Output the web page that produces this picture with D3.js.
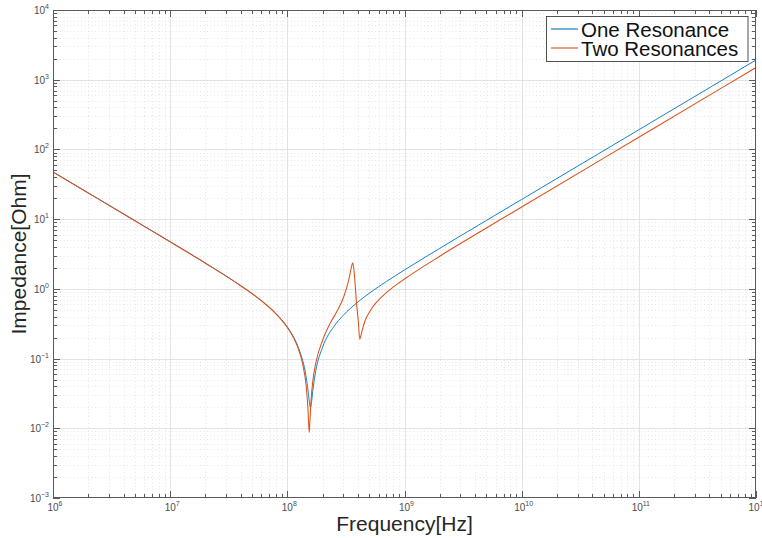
<!DOCTYPE html>
<html>
<head>
<meta charset="utf-8">
<script src="https://cdn.jsdelivr.net/npm/d3@7"></script>
<style>
  html, body { margin: 0; padding: 0; background: #ffffff; }
  svg { display: block; }
  text { font-family: "Liberation Sans", Arial, Helvetica, sans-serif; }
</style>
</head>
<body>
<svg id="chart" width="762" height="538"></svg>
<script>
// Impedance magnitude of a series resonator, single and double resonance
const freqOne = [1e6, 2e6, 5e6, 1e7, 2e7, 4e7, 6e7, 8e7, 1e8, 1.2e8, 1.3e8, 1.4e8, 1.45e8,
  1.5e8, 1.52e8, 1.5745e8, 1.6e8, 1.65e8, 1.75e8, 2e8, 2.5e8, 3e8, 4e8, 6e8, 7e8, 1e9,
  1.5e9, 2e9, 3e9, 5e9, 1e10, 1e11, 1e12];
const zOne = [47.51, 23.75, 9.49, 4.732, 2.337, 1.111, 0.677, 0.4406, 0.2835, 0.1659, 0.1163,
  0.0738, 0.0536, 0.0355, 0.0292, 0.02, 0.0222, 0.0347, 0.0669, 0.1458, 0.2891, 0.4165,
  0.6478, 1.0707, 1.2736, 1.869, 2.843, 3.809, 5.749, 9.573, 19.16, 191.6, 1916];

const freqTwo = [1e6, 2e6, 5e6, 1e7, 2e7, 4e7, 6e7, 8e7, 1e8, 1.2e8, 1.35e8, 1.45e8, 1.5e8,
  1.5375e8, 1.56e8, 1.6e8, 1.65e8, 1.75e8, 2e8, 2.33e8, 2.66e8, 3.03e8, 3.34e8, 3.5e8,
  3.62e8, 3.74e8, 3.89e8, 4.04e8, 4.15e8, 4.25e8, 4.35e8, 4.64e8, 5.12e8, 5.65e8, 6e8, 7e8, 8e8,
  1e9, 2e9, 5e9, 1e10, 1e11, 1e12];
const zTwo = [47.51, 23.75, 9.49, 4.73, 2.335, 1.108, 0.676, 0.4389, 0.280, 0.160, 0.0845,
  0.0394, 0.0191, 0.0087, 0.0129, 0.0276, 0.0474, 0.0865, 0.1831, 0.325, 0.48, 0.77, 1.33,
  1.95, 2.37, 1.557, 0.644, 0.332, 0.19, 0.215, 0.2525, 0.36, 0.49, 0.62, 0.69, 0.88, 1.06,
  1.385, 2.939, 7.457, 14.94, 149.5, 1495];

const seriesNames = ["One Resonance", "Two Resonances"];
const seriesColors = ["#0072BD", "#D95319"];
const seriesWidths = [0.9, 1.05];
const xTickExps = [6, 7, 8, 9, 10, 11, 12];
const yTickExps = [-3, -2, -1, 0, 1, 2, 3, 4];
const xTitle = "Frequency[Hz]";
const yTitle = "Impedance[Ohm]";

const svg = d3.select("#chart");
const plot = { left: 53, right: 756, top: 10, bottom: 498 };

const x = d3.scaleLog().domain([1e6, 1e12]).range([plot.left, plot.right]);
const y = d3.scaleLog().domain([1e-3, 1e4]).range([plot.bottom, plot.top]);

// minor positions: 2..9 times each decade
function minors(exps) {
  const out = [];
  for (let i = 0; i < exps.length - 1; i++) {
    for (let m = 2; m <= 9; m++) out.push(m * Math.pow(10, exps[i]));
  }
  return out;
}
const xMajor = xTickExps.map(e => Math.pow(10, e));
const yMajor = yTickExps.map(e => Math.pow(10, e));
const xMinor = minors(xTickExps);
const yMinor = minors(yTickExps);

const g = svg.append("g");

// minor grid (dotted)
const gridMinor = g.append("g").attr("stroke", "#d6d6d6").attr("stroke-width", 0.6)
  .attr("stroke-dasharray", "1,2.5");
gridMinor.selectAll("line.vx").data(xMinor).join("line")
  .attr("x1", d => Math.round(x(d)) + 0.5).attr("x2", d => Math.round(x(d)) + 0.5)
  .attr("y1", plot.top).attr("y2", plot.bottom);
gridMinor.selectAll("line.hy").data(yMinor).join("line")
  .attr("y1", d => Math.round(y(d)) + 0.5).attr("y2", d => Math.round(y(d)) + 0.5)
  .attr("x1", plot.left).attr("x2", plot.right);

// major grid (solid)
const gridMajor = g.append("g").attr("stroke", "#dcdcdc").attr("stroke-width", 0.8);
gridMajor.selectAll("line.vx").data(xMajor.slice(1, -1)).join("line")
  .attr("x1", d => Math.round(x(d)) + 0.5).attr("x2", d => Math.round(x(d)) + 0.5)
  .attr("y1", plot.top).attr("y2", plot.bottom);
gridMajor.selectAll("line.hy").data(yMajor.slice(1, -1)).join("line")
  .attr("y1", d => Math.round(y(d)) + 0.5).attr("y2", d => Math.round(y(d)) + 0.5)
  .attr("x1", plot.left).attr("x2", plot.right);

// curves
svg.append("clipPath").attr("id", "clip").append("rect")
  .attr("x", plot.left).attr("y", plot.top)
  .attr("width", plot.right - plot.left).attr("height", plot.bottom - plot.top);

const line = d3.line().x(d => x(d[0])).y(d => y(d[1])).curve(d3.curveMonotoneX);
const seriesData = [d3.zip(freqOne, zOne), d3.zip(freqTwo, zTwo)];
g.append("g").attr("clip-path", "url(#clip)")
  .selectAll("path").data(seriesData).join("path")
  .attr("d", line).attr("fill", "none")
  .attr("stroke", (d, i) => seriesColors[i]).attr("stroke-width", (d, i) => seriesWidths[i]);

// axes frame with inward ticks on all sides
const axisColor = "#5a5a5a";
const frame = g.append("g").attr("stroke", axisColor).attr("stroke-width", 1);
frame.append("rect").attr("x", plot.left + 0.5).attr("y", plot.top + 0.5)
  .attr("width", plot.right - plot.left - 1).attr("height", plot.bottom - plot.top - 1)
  .attr("fill", "none");

function xTicks(vals, len) {
  vals.forEach(v => {
    const px = Math.round(x(v)) + 0.5;
    frame.append("line").attr("x1", px).attr("x2", px).attr("y1", plot.bottom).attr("y2", plot.bottom - len);
    frame.append("line").attr("x1", px).attr("x2", px).attr("y1", plot.top).attr("y2", plot.top + len);
  });
}
function yTicks(vals, len) {
  vals.forEach(v => {
    const py = Math.round(y(v)) + 0.5;
    frame.append("line").attr("y1", py).attr("y2", py).attr("x1", plot.left).attr("x2", plot.left + len);
    frame.append("line").attr("y1", py).attr("y2", py).attr("x1", plot.right).attr("x2", plot.right - len);
  });
}
xTicks(xMajor, 7); xTicks(xMinor, 4);
yTicks(yMajor, 7); yTicks(yMinor, 4);

// tick labels as powers of ten
const labelColor = "#4d4d4d";
function powLabel(sel, exp) {
  sel.append("tspan").text("10");
  sel.append("tspan").attr("dy", -5).attr("font-size", 7).text(String(exp).replace("-", "\u2212"));
}
xTickExps.forEach(e => {
  const t = svg.append("text").attr("x", x(Math.pow(10, e)) + 2).attr("y", 511)
    .attr("text-anchor", "middle").attr("font-size", 10).attr("fill", labelColor);
  powLabel(t, e);
});
yTickExps.forEach(e => {
  const t = svg.append("text").attr("x", 49).attr("y", y(Math.pow(10, e)) + 4)
    .attr("text-anchor", "end").attr("font-size", 10).attr("fill", labelColor);
  powLabel(t, e);
});

// axis titles
svg.append("text").attr("x", (plot.left + plot.right) / 2).attr("y", 531)
  .attr("text-anchor", "middle").attr("font-size", 21).attr("fill", "#262626").text(xTitle);
svg.append("text").attr("transform", `translate(26,${(plot.top + plot.bottom) / 2}) rotate(-90)`)
  .attr("text-anchor", "middle").attr("font-size", 21).attr("fill", "#262626").text(yTitle);

// legend
const legend = svg.append("g");
legend.append("rect").attr("x", 546.5).attr("y", 16.5).attr("width", 201.5).attr("height", 45)
  .attr("fill", "#ffffff").attr("stroke", "#262626").attr("stroke-width", 0.8);
seriesNames.forEach((name, i) => {
  const ly = 29 + i * 19;
  legend.append("line").attr("x1", 551).attr("x2", 578).attr("y1", ly).attr("y2", ly)
    .attr("stroke", seriesColors[i]).attr("stroke-width", 1.1);
  legend.append("text").attr("x", 581).attr("y", ly + 7.5).attr("font-size", 20.5)
    .attr("fill", "#111111").text(name);
});
</script>
</body>
</html>
